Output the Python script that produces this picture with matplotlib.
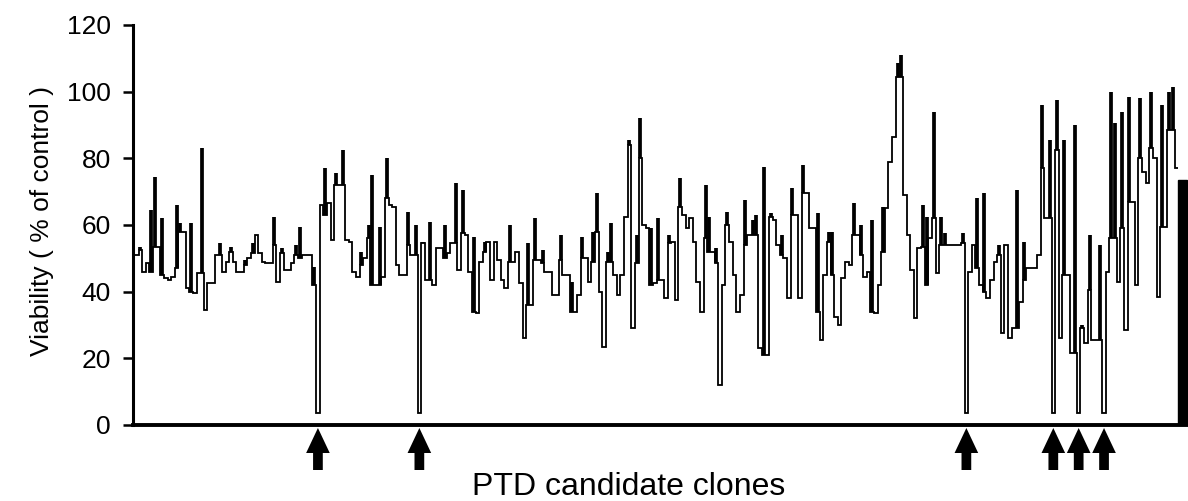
import numpy as np
import matplotlib
matplotlib.use('Agg')
from matplotlib import pyplot as plt

plt.rcParams['font.family'] = ['Liberation Sans', 'DejaVu Sans']

# viability of each PTD candidate clone (% of control)
viability = [
    51, 52.5, 46, 48.5, 46, 53.5, 53.5, 45, 44, 43.5,
    44.5, 47, 58, 58, 41, 40, 39.5, 45.5, 45.5, 34.5,
    42.5, 42.5, 51, 51, 46, 49, 52, 49, 46, 46,
    48, 50, 51.5, 57, 51.5, 49, 48.5, 48.5, 54, 43,
    51.5, 46.5, 46.5, 48.5, 51, 50, 51, 51, 51, 42,
    3.5, 66, 63, 66.5, 55.5, 72, 72, 72, 55.5, 55,
    46, 44.5, 48, 50, 56, 42, 42, 42, 44.5, 68,
    66, 65.5, 48, 45, 45, 54, 51, 51, 3.5, 54.5,
    43.5, 43.5, 42, 53, 53, 50, 51.5, 54.5, 54.5, 46.5,
    57.5, 57, 46, 34, 33.5, 49, 52, 55, 43.5, 55,
    49.5, 43.5, 41, 49, 49, 52, 42.5, 26, 36, 36,
    49.5, 49.5, 48.5, 46, 46, 39, 39, 49.5, 45, 45,
    34, 34, 39, 50, 50, 43, 49, 58, 40, 23.5,
    49, 49, 45, 39, 45, 62.5, 84, 29, 48.5, 80,
    60, 59, 42, 42.5, 43.5, 43.5, 38, 54.5, 55, 37.5,
    65.5, 63, 59, 62, 55, 43, 34, 56, 52, 52,
    48.5, 12, 42, 60, 55, 45, 34, 39, 54, 57,
    57, 57, 23, 21, 21, 62.5, 61.5, 54, 51, 50,
    38, 63, 63, 38, 69.5, 69.5, 59, 59, 34, 25.5,
    45, 55, 45, 32.5, 30, 44, 49, 48, 57, 57,
    51, 44.5, 46, 34, 33.5, 42, 52, 65, 79, 86.5,
    104.5, 104.5, 69, 57, 46.5, 32, 53, 53.5, 42, 56,
    62, 45.5, 54, 54, 54, 54, 54, 54, 54.5, 3.5,
    46, 54, 47, 42, 40, 38, 43.5, 49, 51, 27.5,
    54, 26, 29, 29, 37, 43.5, 47, 47, 47, 51,
    77, 62, 62, 3.5, 82.5, 26, 45, 45, 21.5, 21.5,
    3.5, 29, 24.5, 40.5, 25.5, 25.5, 25.5, 3.5,
    46, 56, 56, 43, 59, 28.5, 67, 67, 42, 80,
    76, 72.5, 83, 80, 38.5, 59.5, 59.5, 88.5, 88.5, 77,
]

# upper error (SD) of each clone
sd = [
    0, 1, 0, 0, 18.5, 21, 0, 17, 0, 0,
    0, 19, 2.5, 0, 0, 20.5, 0, 0, 37.5, 0,
    0, 0, 0, 3.5, 0, 0, 1.5, 0, 0, 0,
    1.5, 0, 3, 0, 0, 0, 0, 0, 8.5, 0,
    1.5, 0, 0, 0, 3, 9.5, 0, 0, 0, 5.5,
    0, 0, 14, 0, 0, 3.5, 0, 10.5, 0, 0,
    0, 0, 4, 0, 4, 33, 0, 17.5, 0, 12,
    0, 0, 0, 0, 0, 10, 0, 9, 0, 0.5,
    0, 17.5, 0, 0, 0, 10, 0, 0, 18, 0,
    13, 0, 0, 22.5, 0, 0, 3, 0, 0, 0,
    0, 0, 0, 11, 0, 0, 0, 0, 18.5, 0,
    12.5, 0, 4, 0, 0, 0, 0, 7.5, 0, 0,
    9, 0, 0, 6.5, 0, 0, 9, 11.5, 0, 0,
    3, 11.5, 0, 0, 0, 0, 1.5, 0, 8.5, 12,
    0, 0, 17, 0, 18.5, 0, 0, 2.5, 0, 0,
    8.5, 0, 0, 0, 0, 0, 0, 16, 10.5, 0,
    4.5, 0, 0, 4, 0, 0, 0, 0, 13.5, 0,
    4.5, 6, 0, 56.5, 0, 1, 0, 0, 6, 0,
    0, 8, 0, 0, 8.5, 0, 0, 0, 29.5, 0,
    0, 3, 13, 0, 0, 0, 0, 0, 9.5, 0,
    9, 0, 0, 27.5, 0, 0, 13.5, 0, 0, 0,
    4, 6.5, 0, 0, 0, 0, 0, 12.5, 20.5, 0,
    32, 0, 8.5, 3.5, 0, 0, 0, 0, 3, 0,
    0, 0, 21, 0, 29.5, 0, 0, 0, 3, 0,
    0, 0, 0, 41.5, 0, 11.5, 0, 0, 0, 0,
    19, 0, 23.5, 0, 15, 0, 40.5, 0, 0, 68.5,
    0, 1, 0, 16.5, 0, 0, 28.5, 0,
    0, 44, 34.5, 0, 35, 0, 31.5, 0, 0, 18,
    0, 0, 17, 0, 0, 36.5, 0, 11.5, 13, 0,
]

control_value = 73.5
# clones marked with arrows (0-based position)
arrow_clones = [50, 78, 229, 253, 260, 267]

vals = np.asarray(viability, dtype=float)
err = np.asarray(sd, dtype=float)
n = len(vals)
x = np.arange(n)

fig = plt.figure(figsize=(11.88, 5.01), dpi=100)
ax = fig.add_axes([133/1188, 1 - 425/501, 1055/1188, 400/501])

ax.stairs(vals, np.arange(n + 1) - 0.5, baseline=None, color='black', lw=1.3)
has_err = err > 0
ax.vlines(x[has_err], vals[has_err], vals[has_err] + err[has_err],
          color='black', lw=2.7, capstyle='butt')
ax.bar(n - 0.5 + 1.25, control_value, width=2.5, color='black', edgecolor='black')

for k in arrow_clones:
    ax.annotate('', xy=(k, -0.9), xytext=(k, -13.5), annotation_clip=False,
                arrowprops=dict(facecolor='black', edgecolor='none', width=7,
                                headwidth=17, headlength=18, shrink=0))

ax.set_xlim(-1.05, n - 0.5 + (1188 - 1178.3) / 3.6226)
ax.set_ylim(0, 120)
ax.set_yticks(np.arange(0, 121, 20))
ax.set_xticks([])
ax.spines['top'].set_visible(False)
ax.spines['right'].set_visible(False)
ax.spines['left'].set_linewidth(2.2)
ax.spines['bottom'].set_linewidth(2.8)
ax.tick_params(axis='y', length=7, width=1.8, labelsize=19, pad=9)

fig.text(42/1188, 1 - 221/501, 'Viability ( % of control )', rotation=90,
         ha='center', va='center', fontsize=19)
fig.text(472/1188, 6/501, 'PTD candidate clones', ha='left', va='baseline',
         fontsize=23)

fig.savefig('out.png')
